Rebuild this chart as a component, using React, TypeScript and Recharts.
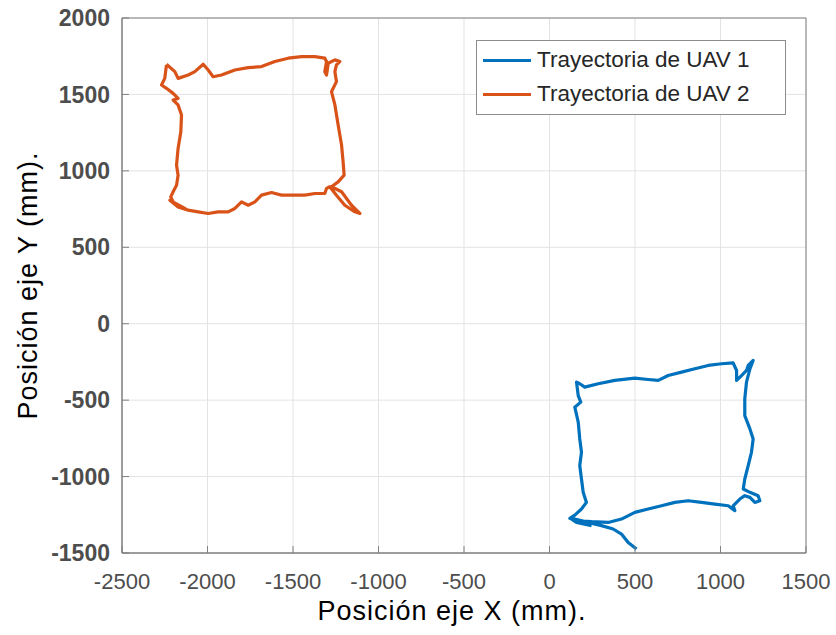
import { LineChart, Line, XAxis, YAxis, CartesianGrid, Legend, ReferenceArea } from 'recharts';

// UAV 1 trajectory (mm)
const uav1X = [509, 460, 421, 372, 304, 226, 148, 119, 148, 187, 216, 197, 187, 177, 187, 177, 168, 148, 183, 168, 158, 177, 206, 285, 382, 499, 577, 636, 694, 772, 850, 928, 1006, 1074, 1094, 1094, 1123, 1152, 1162, 1191, 1172, 1152, 1142, 1142, 1172, 1191, 1181, 1162, 1142, 1133, 1172, 1220, 1230, 1201, 1172, 1142, 1113, 1074, 1084, 1045, 967, 889, 811, 733, 655, 577, 499, 421, 343, 246, 168, 129, 158, 246];
const uav1Y = [-1474, -1431, -1376, -1343, -1321, -1300, -1278, -1273, -1252, -1212, -1169, -1103, -1016, -928, -841, -754, -644, -546, -513, -470, -382, -393, -415, -393, -371, -356, -365, -371, -339, -317, -295, -273, -262, -256, -306, -371, -339, -306, -273, -240, -295, -382, -491, -601, -688, -754, -841, -928, -1016, -1081, -1103, -1125, -1158, -1169, -1136, -1125, -1147, -1191, -1223, -1191, -1180, -1169, -1158, -1169, -1191, -1212, -1234, -1278, -1300, -1295, -1289, -1278, -1300, -1321];

// UAV 2 trajectory (mm)
const uav2X = [-2240, -2191, -2172, -2113, -2074, -2025, -1996, -1967, -1918, -1840, -1762, -1684, -1606, -1528, -1450, -1372, -1314, -1304, -1314, -1304, -1294, -1255, -1226, -1246, -1255, -1246, -1275, -1255, -1236, -1216, -1207, -1201, -1236, -1275, -1216, -1158, -1109, -1138, -1197, -1246, -1285, -1304, -1314, -1372, -1431, -1489, -1567, -1626, -1684, -1723, -1762, -1801, -1840, -1879, -1938, -1996, -2055, -2113, -2172, -2220, -2175, -2130, -2200, -2215, -2201, -2181, -2172, -2181, -2172, -2156, -2152, -2172, -2201, -2172, -2201, -2240, -2269, -2250, -2240];
const uav2Y = [1697, 1649, 1605, 1627, 1649, 1697, 1660, 1616, 1627, 1660, 1675, 1682, 1715, 1737, 1747, 1747, 1737, 1715, 1649, 1627, 1704, 1726, 1715, 1693, 1649, 1584, 1518, 1431, 1300, 1169, 1059, 972, 928, 896, 863, 775, 721, 732, 775, 841, 896, 885, 852, 852, 841, 841, 841, 858, 841, 797, 775, 797, 754, 732, 732, 721, 732, 743, 764, 808, 775, 752, 795, 830, 863, 906, 972, 1037, 1147, 1256, 1365, 1431, 1463, 1474, 1507, 1540, 1562, 1605, 1693];

const xTicks = [-2500, -2000, -1500, -1000, -500, 0, 500, 1000, 1500];
const yTicks = [-1500, -1000, -500, 0, 500, 1000, 1500, 2000];

const toPoints = (xs: number[], ys: number[]) => xs.map((x, i) => ({ x, y: ys[i] }));

const series = [
  { name: 'Trayectoria de UAV 1', color: '#0072BD', data: toPoints(uav1X, uav1Y) },
  { name: 'Trayectoria de UAV 2', color: '#D95319', data: toPoints(uav2X, uav2Y) },
];

const FONT = '"Liberation Sans", Arial, sans-serif';

function TrajectoryLegend() {
  return (
    <div
      style={{
        border: '1.5px solid #8c8c8c',
        background: '#fff',
        width: 310,
        height: 75,
        boxSizing: 'border-box',
        padding: '2px 6px',
        fontFamily: FONT,
        fontSize: 22.5,
        color: '#262626',
      }}
    >
      {series.map((s) => (
        <div key={s.name} style={{ display: 'flex', alignItems: 'center', height: 34 }}>
          <span style={{ display: 'inline-block', width: 48, height: 3, background: s.color, marginRight: 6 }} />
          <span>{s.name}</span>
        </div>
      ))}
    </div>
  );
}

export default function App() {
  return (
    <div style={{ position: 'absolute', left: 0, top: 0, background: '#fff' }}>
      <LineChart width={836} height={635} margin={{ top: 18, right: 30, left: 12, bottom: 15 }}>
        <CartesianGrid stroke="#e3e3e3" strokeWidth={1} />
        <XAxis
          dataKey="x"
          type="number"
          domain={[-2500, 1500]}
          ticks={xTicks}
          allowDataOverflow
          height={67}
          stroke="#808080"
          tickSize={-7}
          tickMargin={27}
          tick={{ fill: '#4d4d4d', fontSize: 22, fontFamily: FONT }}
          label={{
            value: 'Posición eje X (mm).',
            position: 'insideBottom',
            offset: 0,
            dx: -12,
            style: { fill: '#000', fontSize: 27, letterSpacing: 1, fontFamily: FONT },
          }}
        />
        <YAxis
          dataKey="y"
          type="number"
          domain={[-1500, 2000]}
          ticks={yTicks}
          allowDataOverflow
          width={110}
          stroke="#808080"
          tickSize={-7}
          tickMargin={19}
          tick={{ fill: '#4d4d4d', fontSize: 23, fontWeight: 'bold', fontFamily: FONT }}
          label={{
            value: 'Posición eje Y (mm).',
            angle: -90,
            position: 'insideLeft',
            offset: 15,
            style: { fill: '#000', fontSize: 27, letterSpacing: 1, fontFamily: FONT, textAnchor: 'middle' },
          }}
        />
        <ReferenceArea x1={-2500} x2={1500} y1={-1500} y2={2000} fill="none" stroke="#808080" strokeWidth={1} fillOpacity={0} />
        {series.map((s) => (
          <Line
            key={s.name}
            name={s.name}
            data={s.data}
            dataKey="y"
            type="linear"
            stroke={s.color}
            strokeWidth={3.2}
            strokeLinejoin="round"
            dot={false}
            isAnimationActive={false}
          />
        ))}
        <Legend
          layout="horizontal"
          verticalAlign="middle"
          align="center"
          content={() => <TrajectoryLegend />}
          wrapperStyle={{ left: 476, top: 40, width: 310, height: 75 }}
        />
      </LineChart>
    </div>
  );
}
